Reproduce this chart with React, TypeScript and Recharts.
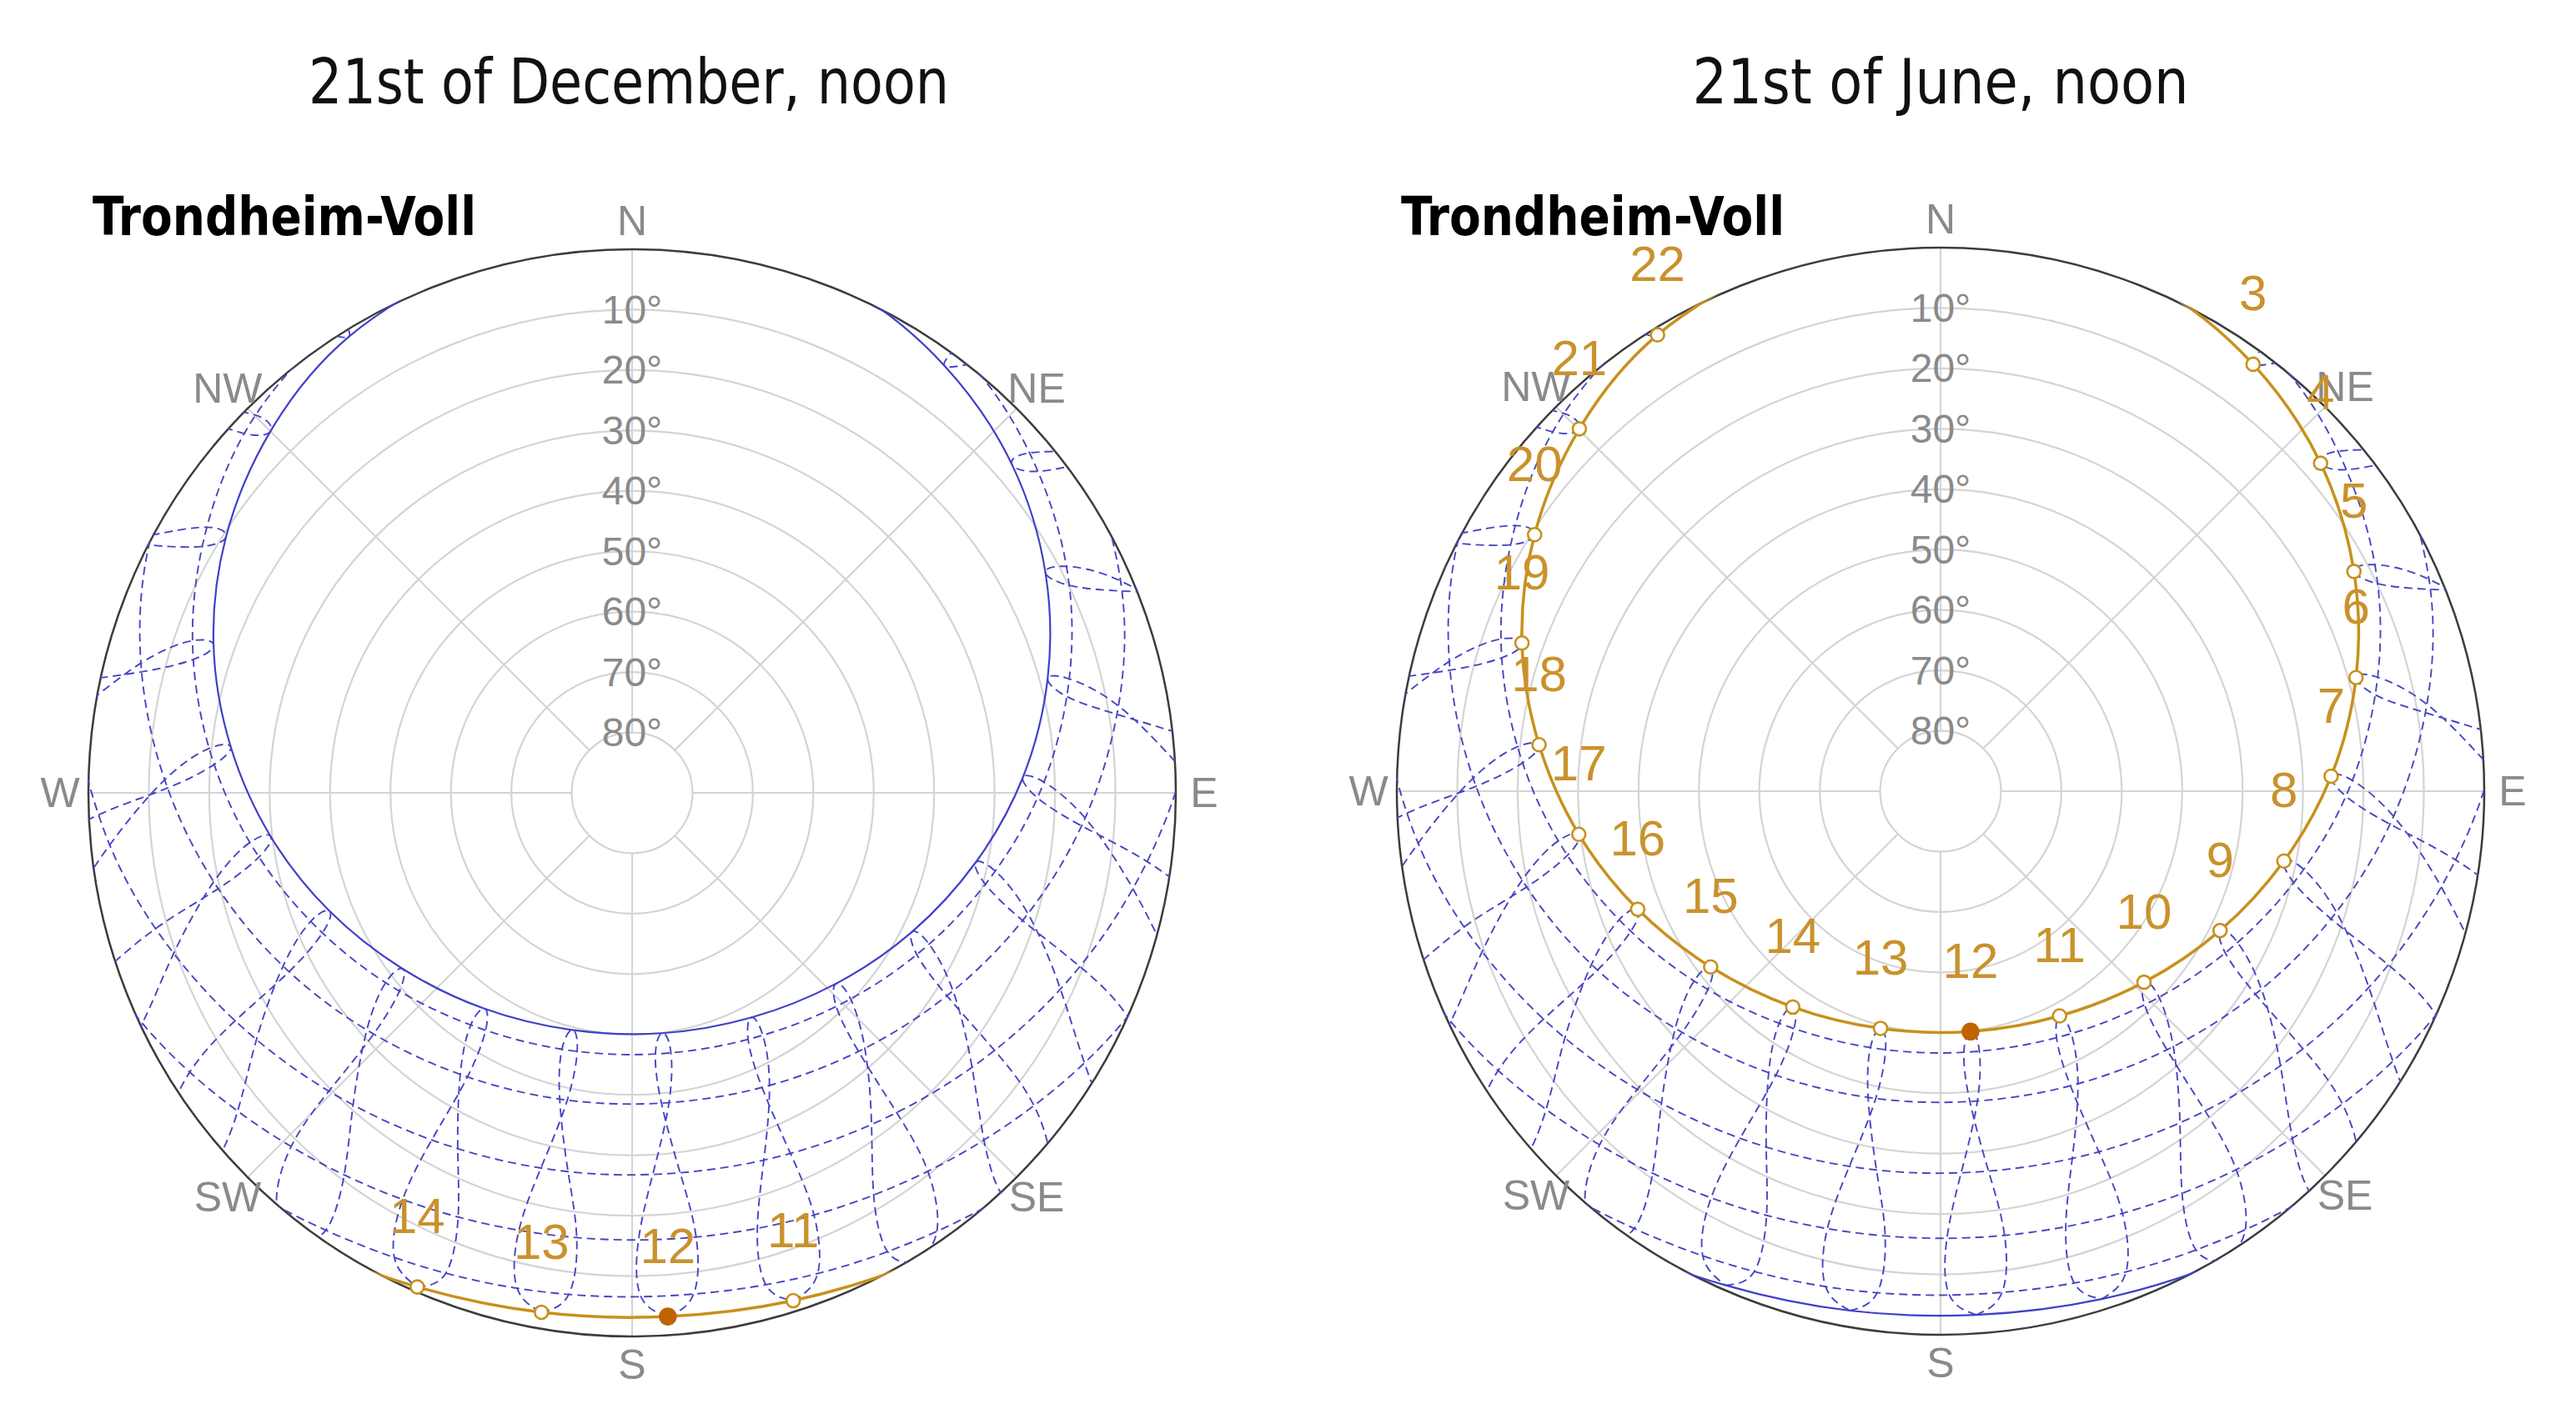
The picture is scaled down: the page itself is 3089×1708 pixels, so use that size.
import React from 'react'
import {
  RadarChart,
  Radar,
  PolarGrid,
  PolarAngleAxis,
  PolarRadiusAxis,
  ScatterChart,
  Scatter,
  XAxis,
  YAxis,
} from 'recharts'

// Sun positions at Trondheim-Voll: [hour (CET), altitude °, azimuth ° from north]
type SunRow = [number, number, number]

const dec21: SunRow[] = [
  [8, -10.2, 122.9], [9, -5.0, 135.8], [10, -0.9, 149.0], [11, 1.8, 162.4], [12, 3.1, 176.1],
  [13, 2.7, 189.9], [14, 0.8, 203.5], [15, -2.6, 216.9], [16, -7.2, 229.9],
]
const jan21: SunRow[] = [
  [8, -8.3, 118.7], [9, -2.8, 131.8], [10, 1.6, 145.2], [11, 4.7, 158.9], [12, 6.4, 173.0],
  [13, 6.3, 187.2], [14, 4.7, 201.2], [15, 1.6, 215.0], [16, -2.9, 228.4], [17, -8.4, 241.4],
]
const feb21: SunRow[] = [
  [7, -6.4, 101.0], [8, 0.0, 114.3], [9, 5.7, 127.9], [10, 10.5, 142.0], [11, 13.9, 156.7],
  [12, 15.7, 171.8], [13, 15.8, 187.1], [14, 14.1, 202.3], [15, 10.8, 217.0], [16, 6.1, 231.1],
  [17, 0.4, 244.8], [18, -5.9, 258.1],
]
const mar21: SunRow[] = [
  [5, -9.2, 70.6], [6, -2.7, 84.2], [7, 4.0, 97.6], [8, 10.5, 111.2], [9, 16.4, 125.4],
  [10, 21.3, 140.4], [11, 24.8, 156.3], [12, 26.6, 172.8], [13, 26.4, 189.6], [14, 24.4, 206.1],
  [15, 20.7, 221.8], [16, 15.6, 236.7], [17, 9.6, 250.7], [18, 3.1, 264.3], [19, -3.6, 277.8],
]
const apr21: SunRow[] = [
  [4, -3.6, 54.1], [5, 2.3, 67.6], [6, 8.7, 80.8], [7, 15.4, 94.2], [8, 22.0, 108.1],
  [9, 28.0, 122.8], [10, 33.1, 138.8], [11, 36.7, 156.2], [12, 38.4, 174.6], [13, 37.9, 193.3],
  [14, 35.4, 211.4], [15, 31.1, 228.2], [16, 25.5, 243.6], [17, 19.2, 258.0], [18, 12.6, 271.6],
  [19, 5.9, 284.8], [20, -0.3, 298.2], [21, -5.8, 311.8],
]
const may21: SunRow[] = [
  [2, -4.0, 24.6], [3, -0.5, 38.3], [4, 4.3, 51.6], [5, 9.9, 64.6], [6, 16.3, 77.5],
  [7, 22.9, 90.7], [8, 29.6, 104.5], [9, 35.8, 119.6], [10, 41.1, 136.3], [11, 44.9, 154.8],
  [12, 46.6, 174.9], [13, 46.0, 195.3], [14, 43.2, 214.8], [15, 38.5, 232.4], [16, 32.7, 248.2],
  [17, 26.2, 262.6], [18, 19.6, 276.0], [19, 13.0, 289.1], [20, 7.0, 302.0], [21, 1.7, 315.1],
  [22, -2.4, 328.6],
]
const jun21: SunRow[] = [
  [1, -2.8, 9.2], [2, -0.9, 22.8], [3, 2.4, 36.2], [4, 6.9, 49.2], [5, 12.5, 62.0],
  [6, 18.7, 74.7], [7, 25.3, 87.8], [8, 32.0, 101.5], [9, 38.3, 116.5], [10, 43.8, 133.2],
  [11, 47.9, 152.1], [12, 49.9, 172.9], [13, 49.5, 194.2], [14, 46.7, 214.4], [15, 42.1, 232.6],
  [16, 36.2, 248.7], [17, 29.7, 263.2], [18, 23.1, 276.6], [19, 16.5, 289.5], [20, 10.5, 302.3],
  [21, 5.3, 315.1], [22, 1.1, 328.2], [23, -1.7, 341.7],
]
const jul21: SunRow[] = [
  [2, -4.0, 22.3], [3, -0.8, 36.0], [4, 3.8, 49.3], [5, 9.3, 62.3], [6, 15.6, 75.2],
  [7, 22.2, 88.3], [8, 28.8, 102.0], [9, 35.2, 116.8], [10, 40.6, 133.2], [11, 44.7, 151.6],
  [12, 46.9, 171.5], [13, 46.7, 192.1], [14, 44.1, 211.8], [15, 39.8, 229.8], [16, 34.1, 245.9],
  [17, 27.7, 260.5], [18, 21.0, 274.1], [19, 14.4, 287.1], [20, 8.3, 300.0], [21, 2.9, 313.0],
  [22, -1.4, 326.4],
]
const aug21: SunRow[] = [
  [4, -3.9, 53.0], [5, 1.9, 66.5], [6, 8.3, 79.8], [7, 15.0, 93.1], [8, 21.6, 106.9],
  [9, 27.7, 121.6], [10, 32.9, 137.6], [11, 36.6, 154.8], [12, 38.4, 173.2], [13, 38.1, 191.9],
  [14, 35.7, 210.1], [15, 31.6, 227.0], [16, 26.1, 242.5], [17, 19.8, 257.0], [18, 13.1, 270.6],
  [19, 6.5, 283.9], [20, 0.2, 297.2], [21, -5.3, 310.8],
]
const sep21: SunRow[] = [
  [5, -7.3, 73.7], [6, -0.7, 87.2], [7, 5.9, 100.6], [8, 12.3, 114.4], [9, 18.0, 128.7],
  [10, 22.6, 144.0], [11, 25.8, 160.1], [12, 27.1, 176.8], [13, 26.5, 193.6], [14, 24.0, 210.0],
  [15, 19.9, 225.5], [16, 14.6, 240.2], [17, 8.4, 254.2], [18, 1.8, 267.7], [19, -4.9, 281.2],
  [20, -11.2, 294.9],
]
const oct21: SunRow[] = [
  [7, -3.4, 107.5], [8, 2.7, 120.9], [9, 8.0, 134.7], [10, 12.1, 149.1], [11, 14.8, 164.0],
  [12, 15.8, 179.2], [13, 15.0, 194.5], [14, 12.5, 209.4], [15, 8.5, 223.9], [16, 3.3, 237.7],
  [17, -2.8, 251.2], [18, -9.3, 264.5],
]
const nov21: SunRow[] = [
  [8, -5.9, 124.2], [9, -0.8, 137.4], [10, 3.1, 150.9], [11, 5.6, 164.8], [12, 6.6, 179.0],
  [13, 5.9, 193.1], [14, 3.6, 207.1], [15, -0.2, 220.7], [16, -5.1, 233.9],
]

// in calendar order, used to trace the hour lines through the year
const year = [dec21, jan21, feb21, mar21, apr21, may21, jun21, jul21, aug21, sep21, oct21, nov21]
const monthPaths = [jan21, feb21, mar21, apr21, may21]
const hourLines = [3, 4, 5, 6, 7, 8, 9, 10, 11, 12, 13, 14, 15, 16, 17, 18, 19, 20, 21, 22]

const directions = ['N', 'NE', 'E', 'SE', 'S', 'SW', 'W', 'NW']
const altitudeTicks = [10, 20, 30, 40, 50, 60, 70, 80]
const station = 'Trondheim-Voll'

const panels = [
  { title: '21st of December, noon', day: dec21, other: jun21, cx: 758, cy: 951, titleX: 754, titleW: 768, stationX: 111 },
  { title: '21st of June, noon', day: jun21, other: dec21, cx: 2327, cy: 949, titleX: 2327, titleW: 595, stationX: 1680 },
]

// layout
const R = 652
const HALF = 760
const BOX = HALF * 2
const EXT = HALF / R
const ZERO = { top: 0, right: 0, bottom: 0, left: 0 }
const SANS = "'Liberation Sans', Arial, sans-serif"
const GRID = '#d4d4d4'
const AXIS_TEXT = '#8a8a8a'
const DASHED = { stroke: '#4646c2', strokeWidth: 1.9, strokeDasharray: '10 6', fill: 'none' }
const SOLID = { stroke: '#4040c8', strokeWidth: 2.2, fill: 'none' }
const ORANGE = '#c8901c'
const NOON = '#c06400'

const toXY = ([hour, alt, az]: SunRow) => {
  const r = (90 - alt) / 90
  const a = (az * Math.PI) / 180
  return { hour, alt, x: r * Math.sin(a), y: r * Math.cos(a) }
}

// one position per month at a given clock hour (the analemma-like hour line)
function hourLine(h: number) {
  const pts = year.map(d => d.find(r => r[0] === h))
  if (pts.every(Boolean)) return [...pts, pts[0]].map(p => toXY(p as SunRow))
  const start = pts.findIndex(p => !p)
  const seq: SunRow[] = []
  for (let i = 1; i <= 12; i++) {
    const p = pts[(start + i) % 12]
    if (p) seq.push(p)
  }
  return seq.map(toXY)
}

const dirData = directions.map(dir => ({ dir, value: 10 }))
const noDot = () => <g />

const DirTick = (p: any) => (
  <text x={p.x} y={p.y} textAnchor="middle" dominantBaseline="central" fontSize={50} fill={AXIS_TEXT} fontFamily={SANS}>
    {p.payload.value}
  </text>
)

const AltTick = (p: any) => (
  <text x={p.x} y={p.y} textAnchor="middle" dominantBaseline="central" fontSize={48} fill={AXIS_TEXT} fontFamily={SANS}>
    {`${90 - p.payload.value}°`}
  </text>
)

const SunMarker = (p: any) => {
  const noon = p.payload.hour === 12
  return (
    <g>
      <circle cx={p.cx} cy={p.cy} r={noon ? 9.5 : 8} fill={noon ? NOON : '#fff'} stroke={noon ? NOON : ORANGE} strokeWidth={2.6} />
      <text x={p.cx} y={p.cy - 85} textAnchor="middle" dominantBaseline="central" fontSize={60} fill="#c9922c" fontFamily={SANS}>
        {p.payload.hour}
      </text>
    </g>
  )
}

function Axes() {
  return (
    <>
      <XAxis type="number" dataKey="x" domain={[-EXT, EXT]} hide allowDataOverflow />
      <YAxis type="number" dataKey="y" domain={[-EXT, EXT]} hide allowDataOverflow />
    </>
  )
}

function SunPanel({ cx, cy, day, other }: { cx: number; cy: number; day: SunRow[]; other: SunRow[] }) {
  const box: React.CSSProperties = { position: 'absolute', left: cx - HALF, top: cy - HALF, width: BOX, height: BOX }
  return (
    <>
      <div style={box}>
        <RadarChart width={BOX} height={BOX} cx={HALF} cy={HALF} innerRadius={R / 9} outerRadius={R} data={dirData} margin={ZERO}>
          <PolarGrid gridType="circle" stroke={GRID} strokeWidth={2.2} />
          <PolarAngleAxis
            dataKey="dir"
            tickSize={34}
            tickLine={false}
            axisLineType="circle"
            axisLine={{ stroke: '#3c3c3c', strokeWidth: 2.5 }}
            tick={DirTick}
          />
          <PolarRadiusAxis
            angle={90}
            type="number"
            domain={[10, 90]}
            ticks={altitudeTicks.map(a => 90 - a)}
            axisLine={false}
            tickLine={false}
            tick={AltTick}
          />
          <Radar dataKey="value" stroke="none" fill="none" isAnimationActive={false} />
        </RadarChart>
      </div>
      <div style={{ ...box, clipPath: `circle(${R + 1}px at ${HALF}px ${HALF}px)` }}>
        <ScatterChart width={BOX} height={BOX} margin={ZERO}>
          {Axes()}
          {hourLines.map(h => (
            <Scatter key={`h${h}`} data={hourLine(h)} line={DASHED} lineType="joint" lineJointType="natural" shape={noDot} isAnimationActive={false} />
          ))}
          {monthPaths.map((m, i) => (
            <Scatter key={`m${i}`} data={m.map(toXY)} line={DASHED} lineType="joint" lineJointType="natural" shape={noDot} isAnimationActive={false} />
          ))}
          <Scatter data={other.map(toXY)} line={SOLID} lineType="joint" lineJointType="natural" shape={noDot} isAnimationActive={false} />
          <Scatter
            data={day.map(toXY)}
            line={{ stroke: ORANGE, strokeWidth: 3.5, fill: 'none' }}
            lineType="joint"
            lineJointType="natural"
            shape={noDot}
            isAnimationActive={false}
          />
        </ScatterChart>
      </div>
      <div style={box}>
        <ScatterChart width={BOX} height={BOX} margin={ZERO}>
          {Axes()}
          <Scatter data={day.filter(r => r[1] > 0).map(toXY)} shape={SunMarker} isAnimationActive={false} />
        </ScatterChart>
      </div>
    </>
  )
}

export default function App() {
  return (
    <div style={{ position: 'absolute', left: 0, top: 0, width: 3089, height: 1708, background: '#fff', overflow: 'hidden' }}>
      <svg width={3089} height={1708} style={{ position: 'absolute', left: 0, top: 0 }}>
        {panels.map(p => (
          <g key={p.title}>
            <text
              x={p.titleX}
              y={124}
              textAnchor="middle"
              fontSize={75}
              textLength={p.titleW}
              lengthAdjust="spacingAndGlyphs"
              fontFamily="'DejaVu Sans Condensed', 'DejaVu Sans', sans-serif"
              fill="#111"
            >
              {p.title}
            </text>
            <text
              x={p.stationX}
              y={282}
              fontSize={64}
              fontWeight="bold"
              textLength={460}
              lengthAdjust="spacingAndGlyphs"
              fontFamily="'DejaVu Sans Condensed', 'DejaVu Sans', sans-serif"
              fill="#000"
            >
              {station}
            </text>
          </g>
        ))}
      </svg>
      {panels.map(p => (
        <SunPanel key={p.title} cx={p.cx} cy={p.cy} day={p.day} other={p.other} />
      ))}
    </div>
  )
}
